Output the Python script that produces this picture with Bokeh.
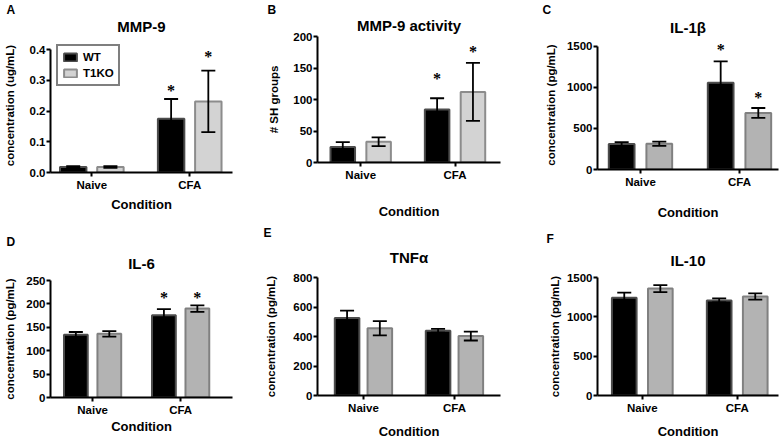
from bokeh.plotting import figure
from bokeh.layouts import row, column
from bokeh.models import (ColumnDataSource, Whisker, TeeHead, LabelSet, Range1d, Title,
                          FixedTicker, Legend, LegendItem)
from bokeh.transform import dodge
from bokeh.embed import file_html
from bokeh.resources import INLINE

# ---------------- data ----------------
categories = ["Naive", "CFA"]
groups = ["WT", "T1KO"]

# A: MMP-9 (ug/mL)
mmp9_wt = [0.018, 0.175]
mmp9_wt_err = [0.003, 0.064]
mmp9_ko = [0.018, 0.231]
mmp9_ko_err = [0.003, 0.100]
mmp9_star_wt = [None, 0.276]
mmp9_star_ko = [None, 0.386]
mmp9_ticks = [0, 0.1, 0.2, 0.3, 0.4]
mmp9_tick_labels = ["0.0", "0.1", "0.2", "0.3", "0.4"]

# B: MMP-9 activity (# SH groups)
act_wt = [24.5, 84]
act_wt_err = [8, 18]
act_ko = [33, 112]
act_ko_err = [7, 46]
act_star_wt = [None, 138]
act_star_ko = [None, 181]
act_ticks = [0, 50, 100, 150, 200]
act_tick_labels = ["0", "50", "100", "150", "200"]

# C: IL-1beta (pg/mL)
il1_wt = [310, 1058]
il1_wt_err = [24, 261]
il1_ko = [314, 690]
il1_ko_err = [26, 60]
il1_star_wt = [None, 1500]
il1_star_ko = [None, 913]
il1_ticks = [0, 500, 1000, 1500]
il1_tick_labels = ["0", "500", "1000", "1500"]

# D: IL-6 (pg/mL)
il6_wt = [134, 176]
il6_wt_err = [6, 13]
il6_ko = [136, 190]
il6_ko_err = [6, 7]
il6_star_wt = [None, 220]
il6_star_ko = [None, 220]
il6_ticks = [0, 50, 100, 150, 200, 250]
il6_tick_labels = ["0", "50", "100", "150", "200", "250"]

# E: TNF-alpha (pg/mL)
tnf_wt = [525, 439]
tnf_wt_err = [50, 13]
tnf_ko = [456, 403]
tnf_ko_err = [48, 30]
tnf_star_wt = [None, None]
tnf_star_ko = [None, None]
tnf_ticks = [0, 200, 400, 600, 800]
tnf_tick_labels = ["0", "200", "400", "600", "800"]

# F: IL-10 (pg/mL)
il10_wt = [1242, 1209]
il10_wt_err = [67, 25]
il10_ko = [1359, 1259]
il10_ko_err = [45, 40]
il10_star_wt = [None, None]
il10_star_ko = [None, None]
il10_ticks = [0, 500, 1000, 1500]
il10_tick_labels = ["0", "500", "1000", "1500"]

# ---------------- styling ----------------
FONT = "Liberation Sans"
WT_FILL, WT_LINE = "#000000", "#4d4d4d"


def panel(letter, title, ylabel, wt, wt_err, ko, ko_err, star_wt, star_ko,
          ticks, tick_labels, ko_fill, ko_line, L, legend=False):
    idx = list(range(len(categories)))
    fv = L["h"] - L["bt"] - L["bb"]          # frame height covered by the ticks
    pad = L.get("pad", 0)                     # extra frame px above the top tick
    y_end = ticks[-1] + pad * (ticks[-1] - ticks[0]) / fv
    fig = figure(width=L["w"], height=L["h"],
                 x_range=Range1d(L["x0"], L["x1"]),
                 y_range=Range1d(ticks[0], y_end),
                 toolbar_location=None, output_backend="svg",
                 title_location=None,
                 min_border_left=L["bl"], min_border_right=L["br"],
                 min_border_top=L["bt"] - pad, min_border_bottom=L["bb"])
    fig.outline_line_color = None
    fig.xgrid.visible = False
    fig.ygrid.visible = False
    fig.background_fill_color = "white"
    fig.border_fill_color = "white"

    src = ColumnDataSource(dict(
        idx=idx, wt=wt, ko=ko,
        wt_up=[v + e for v, e in zip(wt, wt_err)],
        wt_lo=[v - e for v, e in zip(wt, wt_err)],
        ko_up=[v + e for v, e in zip(ko, ko_err)],
        ko_lo=[v - e for v, e in zip(ko, ko_err)],
    ))
    off, bw = L["off"], L["bw"]
    r_wt = fig.vbar(x=dodge("idx", -off), top="wt", width=bw, source=src,
                    fill_color=WT_FILL, line_color=WT_LINE, line_width=2)
    r_ko = fig.vbar(x=dodge("idx", off), top="ko", width=bw, source=src,
                    fill_color=ko_fill, line_color=ko_line, line_width=2)

    for o, up, lo in ((-off, "wt_up", "wt_lo"), (off, "ko_up", "ko_lo")):
        w = Whisker(source=src, base=dodge("idx", o), upper=up, lower=lo,
                    dimension="height", line_color="black", line_width=1.8,
                    upper_head=TeeHead(size=14, line_color="black", line_width=1.8),
                    lower_head=TeeHead(size=14, line_color="black", line_width=1.8),
                    level="annotation")
        fig.add_layout(w)

    for o, stars in ((-off, star_wt), (off, star_ko)):
        si = [i for i in idx if stars[i] is not None]
        if si:
            ssrc = ColumnDataSource(dict(idx=si, y=[stars[i] for i in si], t=["*"] * len(si)))
            ls = LabelSet(x=dodge("idx", o), y="y", text="t", source=ssrc,
                          text_align="center", text_baseline="middle",
                          text_font=FONT, text_font_style="bold",
                          text_font_size="16px", text_color="black", y_offset=-3)
            fig.add_layout(ls)

    # axes
    fig.xaxis.ticker = FixedTicker(ticks=idx)
    fig.xaxis.major_label_overrides = {i: c for i, c in zip(idx, categories)}
    fig.yaxis.ticker = FixedTicker(ticks=ticks)
    fig.yaxis.major_label_overrides = {t: s for t, s in zip(ticks, tick_labels)}
    fig.yaxis.bounds = (ticks[0], ticks[-1])
    for ax in (fig.xaxis, fig.yaxis):
        ax.axis_line_width = 2
        ax.axis_line_color = "black"
        ax.major_tick_line_width = 2
        ax.major_tick_line_color = "black"
        ax.major_tick_out = 4
        ax.major_tick_in = 0
        ax.minor_tick_line_color = None
        ax.major_label_text_font = FONT
        ax.major_label_text_font_style = "bold"
        ax.major_label_text_font_size = "11.5px"
        ax.major_label_text_color = "black"
        ax.axis_label_text_font = FONT
        ax.axis_label_text_font_style = "bold"
        ax.axis_label_text_color = "black"
    fig.yaxis.major_label_standoff = 1
    fig.xaxis.major_label_standoff = 2
    fig.xaxis.axis_label = "Condition"
    fig.xaxis.axis_label_text_font_size = "13px"
    fig.xaxis.axis_label_standoff = L["xls"]
    fig.yaxis.axis_label = ylabel
    fig.yaxis.axis_label_text_font_size = "11.5px"
    fig.yaxis.axis_label_standoff = L["yls"]

    # main title (nearest the frame), then the panel letter above it
    fig.add_layout(Title(text=title, align="center", vertical_align="top",
                         text_font=FONT, text_font_style="bold", text_font_size="15px",
                         text_color="black", standoff=L["ts"]), "above")
    fig.add_layout(Title(text=letter, align="left", offset=L["lx"], text_font=FONT,
                         text_font_style="bold", text_font_size="12px",
                         text_color="black", standoff=L["ls"]), "above")

    if legend:
        lg = Legend(items=[LegendItem(label=groups[0], renderers=[r_wt]),
                           LegendItem(label=groups[1], renderers=[r_ko])],
                    location="top_left", margin=L["lm"], border_line_color="black",
                    border_line_width=2, padding=4, spacing=2,
                    glyph_width=16, glyph_height=10, label_height=14,
                    label_standoff=5, label_text_font=FONT,
                    label_text_font_style="bold", label_text_font_size="11.5px",
                    label_text_color="black", background_fill_alpha=1)
        fig.add_layout(lg)
    return fig


# layout parameters: figure size, borders (bt = px from figure top to the top tick),
# x-range, bar width/offset, label standoffs, title standoff, letter offset/standoff
LA = dict(w=260, h=222, bl=47, br=28, bt=49, bb=50, pad=11, x0=-0.422, x1=1.437, bw=0.27, off=0.19,
          xls=3, yls=11, ts=3, lx=-44, ls=0, lm=6)
LB = dict(w=260, h=222, bl=53, br=12, bt=36, bb=60, x0=-0.458, x1=1.482, bw=0.26, off=0.19,
          xls=20, yls=10, ts=1, lx=-50, ls=0)
LC = dict(w=262, h=222, bl=77, br=2, bt=46, bb=52, pad=6, x0=-0.434, x1=1.394, bw=0.26, off=0.19,
          xls=14, yls=7, ts=5, lx=-55, ls=0)
LD = dict(w=260, h=219, bl=47, br=27, bt=58, bb=44, x0=-0.478, x1=1.589, bw=0.27, off=0.19,
          xls=0, yls=7, ts=13, lx=-44, ls=0)
LE = dict(w=260, h=219, bl=57, br=20, bt=55, bb=43, x0=-0.505, x1=1.506, bw=0.27, off=0.18,
          xls=7, yls=13, ts=19, lx=-54, ls=0)
LF = dict(w=262, h=219, bl=73, br=4, bt=55, bb=43, x0=-0.472, x1=1.435, bw=0.26, off=0.19,
          xls=7, yls=3, ts=13, lx=-51, ls=0)

LIGHT_FILL, LIGHT_LINE = "#d3d3d3", "#8c8c8c"
MID_FILL, MID_LINE = "#b3b3b3", "#808080"

pA = panel("A", "MMP-9", "concentration (ug/mL)", mmp9_wt, mmp9_wt_err, mmp9_ko, mmp9_ko_err,
           mmp9_star_wt, mmp9_star_ko, mmp9_ticks, mmp9_tick_labels, LIGHT_FILL, LIGHT_LINE, LA, legend=True)
pB = panel("B", "MMP-9 activity", "# SH groups", act_wt, act_wt_err, act_ko, act_ko_err,
           act_star_wt, act_star_ko, act_ticks, act_tick_labels, LIGHT_FILL, LIGHT_LINE, LB)
pC = panel("C", "IL-1β", "concentration (pg/mL)", il1_wt, il1_wt_err, il1_ko, il1_ko_err,
           il1_star_wt, il1_star_ko, il1_ticks, il1_tick_labels, MID_FILL, MID_LINE, LC)
pD = panel("D", "IL-6", "concentration (pg/mL)", il6_wt, il6_wt_err, il6_ko, il6_ko_err,
           il6_star_wt, il6_star_ko, il6_ticks, il6_tick_labels, MID_FILL, MID_LINE, LD)
pE = panel("E", "TNFα", "concentration (pg/mL)", tnf_wt, tnf_wt_err, tnf_ko, tnf_ko_err,
           tnf_star_wt, tnf_star_ko, tnf_ticks, tnf_tick_labels, MID_FILL, MID_LINE, LE)
pF = panel("F", "IL-10", "concentration (pg/mL)", il10_wt, il10_wt_err, il10_ko, il10_ko_err,
           il10_star_wt, il10_star_ko, il10_ticks, il10_tick_labels, MID_FILL, MID_LINE, LF)

layout = row(column(pA, pD, spacing=0), column(pB, pE, spacing=0), column(pC, pF, spacing=0), spacing=0)
open("out.html", "w").write(file_html(layout, INLINE))
